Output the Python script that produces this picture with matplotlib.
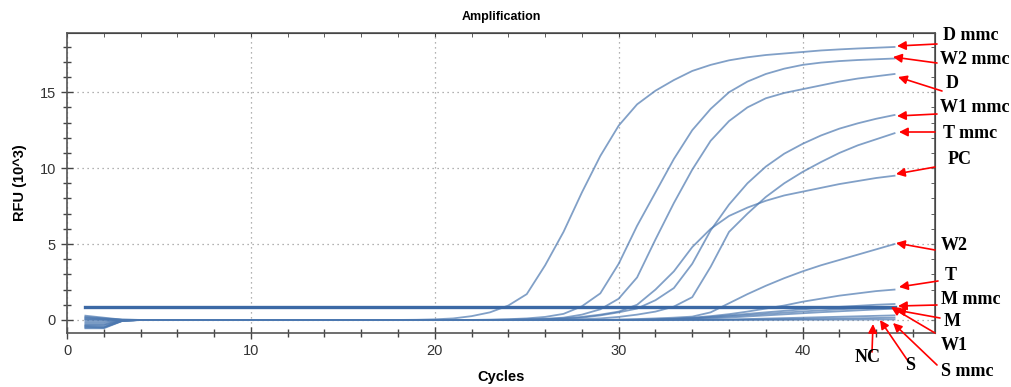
import matplotlib
matplotlib.use('Agg')
import matplotlib.pyplot as plt
from matplotlib.ticker import MultipleLocator

plt.rcParams['font.family'] = ['Liberation Sans', 'DejaVu Sans']

# ---- data: RFU (x1000) per cycle ----
cycles = list(range(1, 46))

d_mmc = [0.28, 0.15, 0.02, 0, 0, 0, 0, 0, 0, 0, 0, 0, 0, 0, 0, 0, 0, 0, 0.01, 0.04,
         0.1, 0.25, 0.5, 0.95, 1.7, 3.6, 5.8, 8.4, 10.8, 12.8, 14.2, 15.1, 15.8, 16.4, 16.8,
         17.1, 17.3, 17.45, 17.55, 17.65, 17.75, 17.82, 17.88, 17.93, 17.98]
w2_mmc = [0.2, 0.1, 0.02, 0, 0, 0, 0, 0, 0, 0, 0, 0, 0, 0, 0, 0, 0, 0, 0, 0,
          0, 0, 0.02, 0.05, 0.1, 0.2, 0.4, 0.9, 1.75, 3.7, 6.2, 8.4, 10.6, 12.5, 13.9,
          15.0, 15.7, 16.2, 16.55, 16.8, 16.95, 17.05, 17.12, 17.17, 17.22]
d = [0.1, 0.05, 0.0, 0, 0, 0, 0, 0, 0, 0, 0, 0, 0, 0, 0, 0, 0, 0, 0, 0,
     0, 0, 0, 0.02, 0.04, 0.08, 0.15, 0.35, 0.7, 1.4, 2.8, 5.3, 7.7, 9.9, 11.8,
     13.1, 14.0, 14.6, 14.95, 15.2, 15.45, 15.7, 15.9, 16.05, 16.2]
w1_mmc = [0.0, 0.0, 0.0, 0, 0, 0, 0, 0, 0, 0, 0, 0, 0, 0, 0, 0, 0, 0, 0, 0,
          0, 0, 0, 0, 0.02, 0.04, 0.08, 0.15, 0.3, 0.5, 0.75, 1.3, 2.1, 3.7, 5.9,
          7.6, 9.0, 10.1, 10.95, 11.6, 12.15, 12.6, 12.95, 13.25, 13.5]
t_mmc = [-0.1, -0.1, -0.02, 0, 0, 0, 0, 0, 0, 0, 0, 0, 0, 0, 0, 0, 0, 0, 0, 0,
         0, 0, 0, 0, 0, 0, 0.02, 0.05, 0.1, 0.2, 0.35, 0.55, 0.88, 1.5, 3.5,
         5.8, 7.0, 8.1, 9.0, 9.75, 10.4, 11.0, 11.5, 11.9, 12.3]
pc = [-0.2, -0.2, -0.03, 0, 0, 0, 0, 0, 0, 0, 0, 0, 0, 0, 0, 0, 0, 0, 0, 0,
      0, 0, 0, 0, 0.02, 0.05, 0.1, 0.2, 0.35, 0.55, 1.0, 2.0, 3.2, 4.8, 6.0,
      6.85, 7.4, 7.85, 8.2, 8.45, 8.7, 8.95, 9.15, 9.35, 9.5]
w2 = [-0.3, -0.3, -0.04, 0, 0, 0, 0, 0, 0, 0, 0, 0, 0, 0, 0, 0, 0, 0, 0, 0,
      0, 0, 0, 0, 0, 0, 0, 0, 0, 0.03, 0.06, 0.1, 0.15, 0.22, 0.5,
      1.1, 1.7, 2.25, 2.75, 3.2, 3.6, 3.95, 4.3, 4.65, 5.0]
t = [-0.35, -0.35, -0.05, 0, 0, 0, 0, 0, 0, 0, 0, 0, 0, 0, 0, 0, 0, 0, 0, 0,
     0, 0, 0, 0, 0, 0, 0, 0, 0, 0, 0.01, 0.03, 0.08, 0.15, 0.25,
     0.38, 0.55, 0.75, 0.95, 1.2, 1.4, 1.6, 1.75, 1.9, 2.0]
m_mmc = [-0.4, -0.45, -0.05, 0, 0, 0, 0, 0, 0, 0, 0, 0, 0, 0, 0, 0, 0, 0, 0, 0,
         0, 0, 0, 0, 0, 0, 0, 0, 0, 0, 0.01, 0.03, 0.07, 0.12, 0.2,
         0.3, 0.4, 0.5, 0.6, 0.7, 0.78, 0.86, 0.93, 1.0, 1.05]
m = [-0.45, -0.5, -0.06, 0, 0, 0, 0, 0, 0, 0, 0, 0, 0, 0, 0, 0, 0, 0, 0, 0,
     0, 0, 0, 0, 0, 0, 0, 0, 0, 0, 0, 0.02, 0.05, 0.1, 0.16,
     0.24, 0.32, 0.4, 0.48, 0.56, 0.63, 0.7, 0.76, 0.81, 0.85]
w1 = [-0.5, -0.5, -0.06, 0, 0, 0, 0, 0, 0, 0, 0, 0, 0, 0, 0, 0, 0, 0, 0, 0,
      0, 0, 0, 0, 0, 0, 0, 0, 0, 0, 0, 0, 0.02, 0.05, 0.1,
      0.16, 0.23, 0.3, 0.37, 0.44, 0.51, 0.57, 0.63, 0.69, 0.75]
s_mmc = [-0.55, -0.55, -0.07, 0, 0, 0, 0, 0, 0, 0, 0, 0, 0, 0, 0, 0, 0, 0, 0, 0,
         0, 0, 0, 0, 0, 0, 0, 0, 0, 0, 0, 0, 0, 0, 0.01,
         0.03, 0.06, 0.09, 0.12, 0.15, 0.18, 0.21, 0.24, 0.27, 0.3]
s = [0.15, 0.08, 0.01, 0, 0, 0, 0, 0, 0, 0, 0, 0, 0, 0, 0, 0, 0, 0, 0, 0,
     0, 0, 0, 0, 0, 0, 0, 0, 0, 0, 0, 0, 0, 0, 0,
     0.01, 0.02, 0.04, 0.05, 0.07, 0.08, 0.1, 0.11, 0.13, 0.15]
nc = [0.05, 0.02, 0.0, 0, 0, 0, 0, 0, 0, 0, 0, 0, 0, 0, 0, 0, 0, 0, 0, 0,
      0, 0, 0, 0, 0, 0, 0, 0, 0, 0, 0, 0, 0, 0, 0,
      0, 0, 0, 0, 0.01, 0.01, 0.02, 0.02, 0.03, 0.03]

series = [d_mmc, w2_mmc, d, w1_mmc, t_mmc, pc, w2, t, m_mmc, m, w1, s_mmc, s, nc]
threshold = 0.82

# label layout: (text, text x, text y, arrow head x, arrow head y) in image pixels
labels = [
    ('D mmc', 943, 35, 937, 44, 897, 46),
    ('W2 mmc', 940, 60, 937, 63, 893, 57),
    ('D', 946, 84, 942, 91, 898, 77),
    ('W1 mmc', 940, 107, 937, 114, 897, 116),
    ('T mmc', 943, 133, 935, 132, 899, 132),
    ('PC', 948, 160, 935, 167, 896, 174),
    ('W2', 941, 245, 935, 250, 896, 243),
    ('T', 945, 275, 938, 281, 899, 287),
    ('M mmc', 941, 299, 937, 305, 898, 306),
    ('M', 944, 321, 940, 318, 896, 310),
    ('W1', 941, 345, 935, 333, 891, 307),
    ('S mmc', 941, 371, 937, 365, 893, 323),
    ('S', 905, 365, 908, 361, 880, 320),
    ('NC', 855, 357, 872, 352, 873, 324),
]

W, H = 1012, 387
fig = plt.figure(figsize=(W / 100, H / 100), dpi=100)
ax = fig.add_axes([67 / W, 1 - 333 / H, (935 - 67) / W, (333 - 33) / H])

for ys in series:
    ax.plot(cycles, ys, color='#4c78b0', lw=1.3, alpha=0.7)
ax.plot([cycles[0], cycles[-1]], [threshold, threshold], color='#3c69a5', lw=2.4)

ax.set_xlim(0, 47.2)
ax.set_ylim(-0.86, 18.9)
ax.xaxis.set_major_locator(MultipleLocator(10))
ax.xaxis.set_minor_locator(MultipleLocator(2))
ax.yaxis.set_major_locator(MultipleLocator(5))
ax.yaxis.set_minor_locator(MultipleLocator(1))
ax.grid(True, which='major', linestyle=(0, (1, 3)), color='#999999', lw=0.9)
ax.tick_params(which='major', direction='inout', length=9, width=1, color='#444444',
               labelsize=10.5, labelcolor='#333333')
ax.tick_params(which='minor', direction='inout', length=6, width=1, color='#444444')
for sp in ax.spines.values():
    sp.set_color('#555555')
    sp.set_linewidth(1.2)

# inward ticks on the top and right sides
top = ax.secondary_xaxis('top')
top.xaxis.set_major_locator(MultipleLocator(10))
top.xaxis.set_minor_locator(MultipleLocator(2))
top.tick_params(which='both', direction='in', length=3, color='#444444', labeltop=False)
right = ax.secondary_yaxis('right')
right.yaxis.set_major_locator(MultipleLocator(5))
right.yaxis.set_minor_locator(MultipleLocator(1))
right.tick_params(which='both', direction='in', length=3, color='#444444', labelright=False)

fig.text(501 / W, 1 - 17 / H, 'Amplification', ha='center', va='center',
         fontsize=9, fontweight='bold')
fig.text(501 / W, 1 - 377 / H, 'Cycles', ha='center', va='center',
         fontsize=10.5, fontweight='bold')
fig.text(20 / W, 1 - 183 / H, 'RFU (10^3)', ha='center', va='center',
         rotation=90, fontsize=10.5, fontweight='bold')

for txt, tx, ty, ax0, ay0, hx, hy in labels:
    fig.text(tx / W, 1 - ty / H, txt, ha='left', va='center', fontsize=13,
             fontweight='bold', family=['Liberation Serif', 'DejaVu Serif'])
    ax.annotate('', xy=(hx / W, 1 - hy / H), xytext=(ax0 / W, 1 - ay0 / H),
                xycoords='figure fraction', textcoords='figure fraction',
                annotation_clip=False,
                arrowprops=dict(arrowstyle='-|>', color='red', lw=1.2,
                                mutation_scale=13, shrinkA=0, shrinkB=0))

fig.savefig('out.png', dpi=100)
